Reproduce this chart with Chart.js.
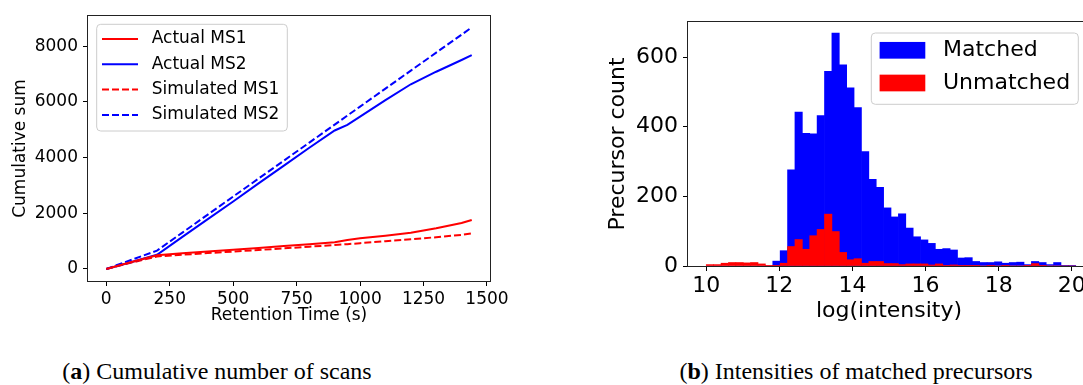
<!DOCTYPE html>
<html>
<head>
<meta charset="utf-8">
<script src="https://cdn.jsdelivr.net/npm/chart.js@4.4.0/dist/chart.umd.min.js"></script>
<style>
  html, body { margin: 0; padding: 0; background: #fff; }
  body { width: 1083px; height: 385px; overflow: hidden; position: relative; }
  .box { position: absolute; top: 0; height: 335px; }
  #boxA { left: 0; width: 520px; }
  #boxB { left: 600px; width: 510px; }
  .cap { position: absolute; top: 358px; font-family: 'Liberation Serif', serif; font-size: 24px; color: #000;
         white-space: nowrap; transform: translateX(-50%); }
</style>
</head>
<body>
<div class="box" id="boxA"><canvas id="scans"></canvas></div>
<div class="box" id="boxB"><canvas id="hist"></canvas></div>
<div class="cap" style="left:217px">(<b>a</b>) Cumulative number of scans</div>
<div class="cap" style="left:856px">(<b>b</b>) Intensities of matched precursors</div>
<script>
// (a) cumulative number of scans
const retentionTime = [0, 100, 200, 300, 400, 500, 600, 700, 800, 900, 950, 1000, 1100, 1200, 1300, 1400, 1440];
const actualMS1 = [0, 250, 490, 560, 625, 690, 755, 820, 885, 960, 1040, 1100, 1190, 1300, 1460, 1650, 1760];
const actualMS2 = [0, 250, 510, 1150, 1790, 2420, 3070, 3710, 4350, 4970, 5170, 5470, 6060, 6630, 7080, 7500, 7676];
const simulatedMS1 = [0, 230, 450, 510, 570, 625, 680, 740, 800, 860, 890, 925, 995, 1065, 1140, 1225, 1280];
const simulatedMS2 = [0, 330, 660, 1306, 1952, 2598, 3244, 3890, 4536, 5182, 5505, 5828, 6474, 7120, 7766, 8411, 8669];
const timeTicks = [0, 250, 500, 750, 1000, 1250, 1500];
const sumTicks = [0, 2000, 4000, 6000, 8000];

// (b) histogram of log(intensity), 50 bins
const binStart = 10.0;
const binWidth = 0.2022;
const matched = [0, 0, 0, 0, 0, 0, 0, 0, 0, 14,
  44, 276, 442, 381, 380, 432, 559, 669, 578, 512,
  455, 329, 249, 226, 167, 141, 150, 109, 84, 75,
  65, 48, 50, 46, 23, 24, 13, 10, 10, 12,
  8, 10, 11, 4, 13, 10, 4, 10, 2, 1];
const unmatched = [4, 4, 8, 10, 10, 9, 10, 6, 1, 1,
  8, 56, 76, 48, 87, 105, 149, 99, 39, 18,
  21, 8, 13, 13, 7, 7, 4, 6, 6, 6,
  3, 6, 2, 3, 1, 1, 1, 0, 1, 0,
  1, 0, 0, 1, 7, 1, 0, 0, 0, 0];
const intensityTicks = [10, 12, 14, 16, 18, 20];
const countTicks = [0, 200, 400, 600];

Chart.defaults.font.family = "'DejaVu Sans', sans-serif";
Chart.defaults.color = '#000';
Chart.defaults.animation = false;

// matplotlib style box around the axes
const frame = {
  id: 'frame',
  afterDatasetsDraw(chart) {
    const { ctx, chartArea: a } = chart;
    ctx.save();
    ctx.strokeStyle = '#222';
    ctx.lineWidth = 1;
    ctx.strokeRect(Math.round(a.left) - 0.5, Math.round(a.top) - 0.5,
      Math.round(a.right - a.left) + 1, Math.round(a.bottom - a.top) + 1);
    ctx.restore();
  }
};

function legendBox(ctx, x, y, w, h) {
  ctx.beginPath();
  ctx.roundRect(x, y, w, h, 4);
  ctx.fillStyle = 'rgba(255,255,255,0.8)';
  ctx.fill();
  ctx.strokeStyle = '#cccccc';
  ctx.lineWidth = 1;
  ctx.stroke();
}

const boxLegend = {
  id: 'boxLegend',
  afterDraw(chart, args, o) {
    const { ctx, chartArea: a } = chart;
    const x0 = a.left + o.dx, y0 = a.top + o.dy;
    ctx.save();
    legendBox(ctx, x0, y0, o.w, o.h);
    ctx.font = o.size + "px 'DejaVu Sans'";
    ctx.textBaseline = 'middle';
    chart.data.datasets.forEach((ds, i) => {
      const y = y0 + o.first + i * o.gap;
      if (o.kind === 'line') {
        ctx.beginPath();
        ctx.setLineDash(ds.borderDash || []);
        ctx.strokeStyle = ds.borderColor;
        ctx.lineWidth = ds.borderWidth;
        ctx.moveTo(x0 + o.sx, y);
        ctx.lineTo(x0 + o.sx + o.sw, y);
        ctx.stroke();
        ctx.setLineDash([]);
      } else {
        ctx.fillStyle = ds.backgroundColor;
        ctx.fillRect(x0 + o.sx, y - o.sh / 2, o.sw, o.sh);
      }
      ctx.fillStyle = '#000';
      ctx.fillText(ds.label, x0 + o.tx, y);
    });
    ctx.restore();
  }
};

function fixedTicks(values) {
  return scale => { scale.ticks = values.map(v => ({ value: v })); };
}

function axis(opts) {
  return {
    type: 'linear',
    min: opts.min,
    max: opts.max,
    offset: false,
    afterBuildTicks: fixedTicks(opts.ticks),
    afterFit: opts.fit,
    border: { display: false },
    grid: { display: true, offset: false, drawOnChartArea: false, drawTicks: true, tickLength: 5, color: '#000' },
    ticks: { font: { size: opts.size }, padding: opts.pad, maxRotation: 0, autoSkip: false, callback: v => String(v) },
    title: { display: true, text: opts.title, font: { size: opts.size }, padding: opts.titlePad }
  };
}

const pts = ys => retentionTime.map((t, i) => ({ x: t, y: ys[i] }));

new Chart(document.getElementById('scans'), {
  type: 'line',
  data: {
    datasets: [
      { label: 'Actual MS1', data: pts(actualMS1), borderColor: '#ff0000', borderWidth: 2 },
      { label: 'Actual MS2', data: pts(actualMS2), borderColor: '#0000ff', borderWidth: 2 },
      { label: 'Simulated MS1', data: pts(simulatedMS1), borderColor: '#ff0000', borderWidth: 2, borderDash: [7, 3] },
      { label: 'Simulated MS2', data: pts(simulatedMS2), borderColor: '#0000ff', borderWidth: 2, borderDash: [7, 3] }
    ]
  },
  options: {
    responsive: true,
    maintainAspectRatio: false,
    layout: { padding: { top: 16, right: 30, left: 0, bottom: 0 } },
    elements: { point: { radius: 0 }, line: { tension: 0, fill: false } },
    plugins: {
      legend: { display: false },
      tooltip: { enabled: false },
      boxLegend: { kind: 'line', dx: 8.7, dy: 8.3, w: 190.6, h: 106.7, first: 14.7, gap: 25.3,
                   sx: 5.3, sw: 36, tx: 55, size: 17 }
    },
    scales: {
      x: axis({ min: -72, max: 1512, ticks: timeTicks, size: 17, pad: 3, title: 'Retention Time (s)',
                titlePad: { top: 0, bottom: 9 }, fit: s => { s.height = 54; } }),
      y: axis({ min: -432, max: 9080, ticks: sumTicks, size: 17, pad: 5, title: 'Cumulative sum',
                titlePad: { top: 10, bottom: 0 }, fit: s => { s.width = 88; } })
    }
  },
  plugins: [frame, boxLegend]
});

const bins = matched.map((_, i) => binStart + (i + 0.5) * binWidth);
const bars = ys => bins.map((c, i) => ({ x: c, y: ys[i] }));

new Chart(document.getElementById('hist'), {
  type: 'bar',
  data: {
    datasets: [
      { label: 'Matched', data: bars(matched), backgroundColor: '#0000ff', order: 1 },
      { label: 'Unmatched', data: bars(unmatched), backgroundColor: '#ff0000', order: 0 }
    ]
  },
  options: {
    responsive: true,
    maintainAspectRatio: false,
    layout: { padding: { top: 22, right: 20, left: 0, bottom: 0 } },
    datasets: { bar: { grouped: false, barPercentage: 1, categoryPercentage: 1, borderWidth: 0 } },
    plugins: {
      legend: { display: false },
      tooltip: { enabled: false },
      boxLegend: { kind: 'box', dx: 183.3, dy: 11, w: 207, h: 71.3, first: 17.3, gap: 32.7,
                   sx: 8.3, sw: 45.7, sh: 16.7, tx: 71.7, size: 22 }
    },
    scales: {
      x: axis({ min: 9.5, max: 20.5, ticks: intensityTicks, size: 22, pad: 2, title: 'log(intensity)',
                titlePad: { top: 0, bottom: 11 }, fit: s => { s.height = 69; } }),
      y: axis({ min: 0, max: 701, ticks: countTicks, size: 22, pad: 5, title: 'Precursor count',
                titlePad: { top: 5, bottom: 0 }, fit: s => { s.width = 88; } })
    }
  },
  plugins: [frame, boxLegend]
});
</script>
</body>
</html>
